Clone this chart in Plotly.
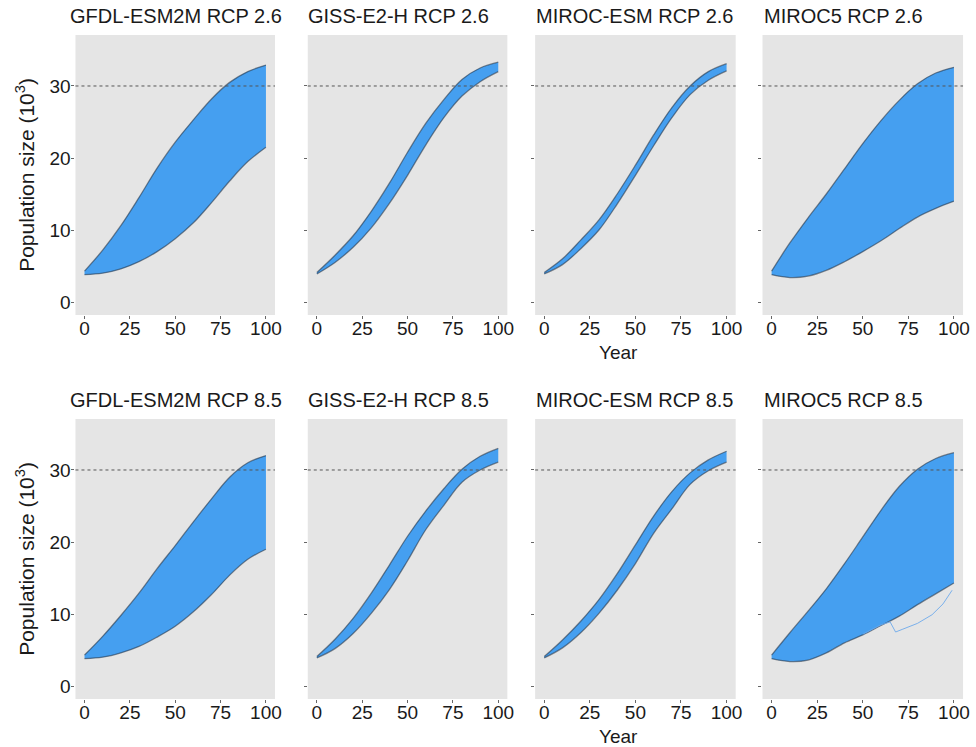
import plotly.graph_objects as go
from plotly.subplots import make_subplots

# ---------------- data ----------------
years = [0, 10, 20, 30, 40, 50, 60, 70, 80, 90, 100]

titles = ["GFDL-ESM2M RCP 2.6", "GISS-E2-H RCP 2.6", "MIROC-ESM RCP 2.6", "MIROC5 RCP 2.6",
          "GFDL-ESM2M RCP 8.5", "GISS-E2-H RCP 8.5", "MIROC-ESM RCP 8.5", "MIROC5 RCP 8.5"]

gfdl26_upper = [4.3, 7.2, 10.6, 14.5, 18.6, 22.2, 25.3, 28.2, 30.5, 32.0, 32.9]
gfdl26_lower = [3.8, 4.0, 4.6, 5.6, 7.0, 8.8, 11.0, 13.8, 16.8, 19.5, 21.5]
giss26_upper = [4.1, 6.5, 9.2, 12.6, 16.5, 20.8, 24.8, 28.1, 30.9, 32.5, 33.3]
giss26_lower = [3.9, 5.5, 7.6, 10.3, 13.7, 17.6, 21.8, 25.6, 28.6, 30.6, 32.0]
miresm26_upper = [4.1, 6.0, 8.6, 11.4, 15.0, 19.0, 23.2, 27.0, 30.0, 32.0, 33.1]
miresm26_lower = [3.9, 5.2, 7.4, 10.0, 13.6, 17.6, 21.7, 25.6, 28.8, 30.8, 32.1]
miroc526_upper = [4.3, 8.2, 11.7, 15.0, 18.5, 22.0, 25.2, 28.0, 30.3, 31.8, 32.6]
miroc526_lower = [3.8, 3.4, 3.6, 4.4, 5.6, 7.0, 8.5, 10.2, 11.8, 13.0, 14.0]

gfdl85_upper = [4.3, 6.9, 9.8, 12.9, 16.3, 19.5, 22.8, 26.0, 29.0, 31.0, 32.0]
gfdl85_lower = [3.8, 4.0, 4.6, 5.5, 6.8, 8.3, 10.3, 12.7, 15.4, 17.6, 19.0]
giss85_upper = [4.1, 6.5, 9.4, 12.9, 16.8, 20.8, 24.3, 27.4, 30.1, 31.9, 33.0]
giss85_lower = [3.9, 5.2, 7.3, 10.1, 13.4, 17.4, 21.7, 25.1, 28.3, 30.0, 31.1]
miresm85_upper = [4.1, 6.4, 9.0, 12.0, 15.6, 19.6, 23.6, 27.0, 29.6, 31.4, 32.6]
miresm85_lower = [3.9, 5.3, 7.4, 10.1, 13.3, 17.0, 21.2, 24.6, 28.0, 29.9, 31.1]
miroc585_upper = [4.3, 7.4, 10.4, 13.5, 17.0, 20.7, 24.4, 27.7, 30.1, 31.6, 32.4]
miroc585_lower = [3.8, 3.4, 3.6, 4.6, 6.0, 7.1, 8.4, 9.7, 11.3, 12.8, 14.3]

# single low outlier trajectory in MIROC5 RCP 8.5
outlier_years = [50, 60, 65, 68, 72, 80, 88, 94, 99]
outlier_vals = [7.2, 8.5, 8.9, 7.5, 7.9, 8.7, 9.9, 11.4, 13.3]

uppers = [gfdl26_upper, giss26_upper, miresm26_upper, miroc526_upper,
          gfdl85_upper, giss85_upper, miresm85_upper, miroc585_upper]
lowers = [gfdl26_lower, giss26_lower, miresm26_lower, miroc526_lower,
          gfdl85_lower, giss85_lower, miresm85_lower, miroc585_lower]

threshold = 30
x_ticks = [0, 25, 50, 75, 100]
y_ticks = [0, 10, 20, 30]

# ---------------- styling ----------------
W, H = 976, 747
BLUE = "#459FF0"
BG = "#E5E5E5"
EDGE = "rgba(35,45,60,0.55)"
FONT = "Liberation Sans, Arial, sans-serif"

col_px = [(76, 277), (310, 511), (539, 741), (768, 970)]
row_px = [(35, 315), (419, 699)]

fig = make_subplots(rows=2, cols=4)

for i in range(8):
    r, c = i // 4 + 1, i % 4 + 1
    up, lo = uppers[i], lowers[i]
    fig.add_trace(go.Scatter(
        x=years, y=lo, mode="lines",
        line=dict(color=EDGE, width=1.3, shape="spline"),
        hoverinfo="skip", showlegend=False), row=r, col=c)
    fig.add_trace(go.Scatter(
        x=years, y=up, mode="lines", fill="tonexty", fillcolor=BLUE,
        line=dict(color=EDGE, width=1.3, shape="spline"),
        hoverinfo="skip", showlegend=False), row=r, col=c)
    if i == 7:
        fig.add_trace(go.Scatter(
            x=outlier_years, y=outlier_vals, mode="lines",
            line=dict(color="rgba(110,170,235,0.9)", width=1),
            hoverinfo="skip", showlegend=False), row=r, col=c)

annotations = []
shapes = []
for i in range(8):
    r, c = i // 4, i % 4
    n = i + 1
    xa = "xaxis" if n == 1 else f"xaxis{n}"
    ya = "yaxis" if n == 1 else f"yaxis{n}"
    x0, x1 = col_px[c]
    y0, y1 = row_px[r]
    fig.layout[xa].update(
        domain=[x0 / W, x1 / W], range=[-5, 105], tickvals=x_ticks,
        ticks="outside", ticklen=3, tickcolor="#666", showgrid=False,
        zeroline=False, showline=False, ticklabelstandoff=-7,
        tickfont=dict(size=19, color="#1a1a1a", family=FONT))
    fig.layout[ya].update(
        domain=[1 - y1 / H, 1 - y0 / H], range=[-1.8, 37.08], tickvals=y_ticks,
        ticks="outside", ticklen=3, tickcolor="#666", showgrid=False,
        zeroline=False, showline=False, showticklabels=(c == 0),
        ticklabelstandoff=-3,
        tickfont=dict(size=19, color="#1a1a1a", family=FONT))
    xr = "x" if n == 1 else f"x{n}"
    yr = "y" if n == 1 else f"y{n}"
    shapes.append(dict(type="line", xref=f"{xr} domain", yref=yr, x0=0, x1=1,
                       y0=threshold, y1=threshold,
                       line=dict(color="#555", width=1, dash="dot")))
    title_left = [68, 308, 538, 768][c]
    annotations.append(dict(text=titles[i], xref="paper", yref="paper",
                            x=title_left / W, y=1 - (y0 - 6) / H,
                            xanchor="left", yanchor="bottom", showarrow=False,
                            font=dict(size=20, color="#1a1a1a", family=FONT)))

for r in range(2):
    y0, y1 = row_px[r]
    annotations.append(dict(text="Population size (10<sup>3</sup>)", xref="paper", yref="paper",
                            x=25 / W, y=1 - (y0 + y1) / 2 / H, textangle=-90,
                            xanchor="center", yanchor="middle", showarrow=False,
                            font=dict(size=21, color="#1a1a1a", family=FONT)))
    annotations.append(dict(text="Year", xref="paper", yref="paper",
                            x=623 / W, y=1 - (y1 + 37) / H,
                            xanchor="center", yanchor="middle", showarrow=False,
                            font=dict(size=19, color="#1a1a1a", family=FONT)))

fig.update_layout(width=W, height=H, margin=dict(l=0, r=0, t=0, b=0),
                  paper_bgcolor="white", plot_bgcolor=BG,
                  annotations=annotations, shapes=shapes, showlegend=False)

fig.write_html("out.html")
